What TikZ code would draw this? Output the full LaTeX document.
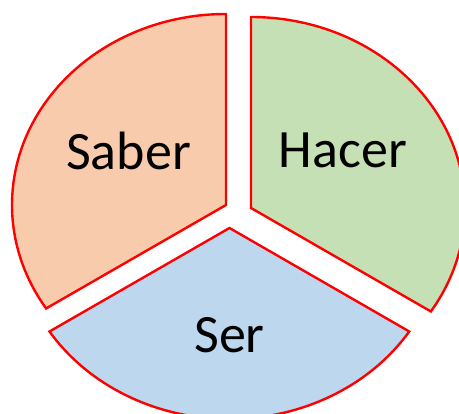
\documentclass[tikz,border=0pt]{standalone}
\usepackage{fontspec}
\setmainfont{Carlito}
\definecolor{saberfill}{HTML}{F8CBAD}
\definecolor{hacerfill}{HTML}{C5E0B4}
\definecolor{serfill}{HTML}{BDD7EE}
\definecolor{edgered}{HTML}{FF0000}
\begin{document}
\begin{tikzpicture}[x=1pt,y=-1pt,
  sector/.style={draw=edgered,line width=2.4pt,line join=miter},
  lbl/.style={font=\fontsize{54}{60}\selectfont,anchor=base,inner sep=0pt}]
\clip (0,0) rectangle (459,414);
\fill[white] (0,0) rectangle (459,414);
% Saber
\draw[sector,fill=saberfill] (226,205) -- (226,14)
  arc[start angle=-90,end angle=-212.8,x radius=214,y radius=191] -- cycle;
% Hacer
\draw[sector,fill=hacerfill] (251,208) -- (251,17)
  arc[start angle=-90,end angle=32.8,x radius=214,y radius=191] -- cycle;
% Ser
\draw[sector,fill=serfill] (229.5,228) -- ++(-180,103.5)
  arc[start angle=147.2,end angle=32.8,x radius=214,y radius=191] -- cycle;
\node[lbl] (saber) at (128.5,170) {Saber};
\node[lbl] (hacer) at (343,168) {Hacer};
\node[lbl] (ser) at (229.5,353) {Ser};
\end{tikzpicture}
\end{document}
